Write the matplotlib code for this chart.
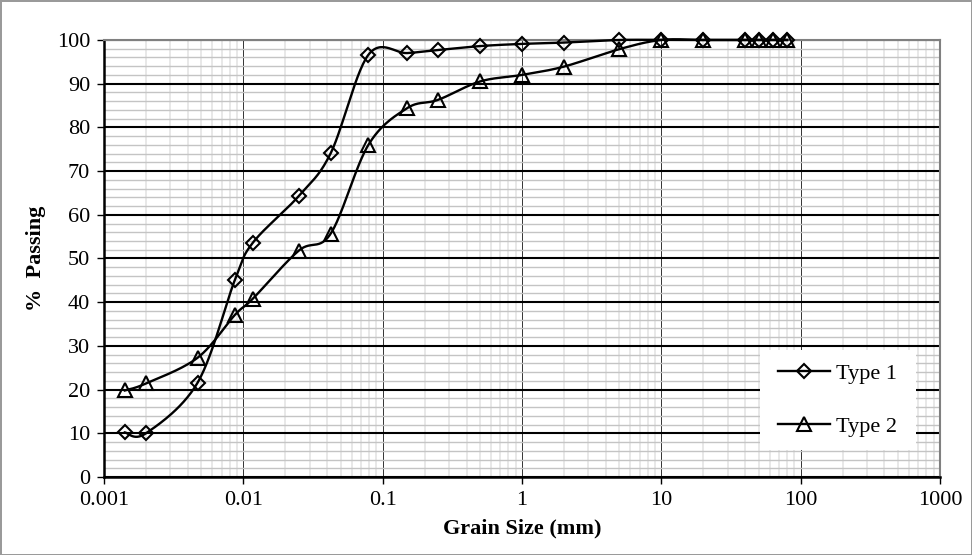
import numpy as np
import matplotlib.pyplot as plt
from matplotlib.ticker import LogLocator, MultipleLocator, FixedLocator, NullFormatter, FixedFormatter
from matplotlib.patches import Rectangle
from matplotlib.lines import Line2D

plt.rcParams['font.family'] = ['Liberation Serif', 'DejaVu Serif']

# --- datos ---
size_t1 = [0.00141, 0.002, 0.0047, 0.0087, 0.0117, 0.025, 0.0424, 0.079,
           0.15, 0.25, 0.5, 1, 2, 5, 10, 20, 40, 50, 63, 80]
pass_t1 = [10.2, 10.0, 21.6, 45.1, 53.6, 64.3, 74.1, 96.6,
           97.0, 97.7, 98.6, 99.1, 99.4, 100, 100, 100, 100, 100, 100, 100]

size_t2 = [0.00141, 0.002, 0.0047, 0.0087, 0.0117, 0.025, 0.0424, 0.079,
           0.15, 0.25, 0.5, 1, 2, 5, 10, 20, 40, 50, 63, 80]
pass_t2 = [19.8, 21.4, 27.3, 37.1, 40.8, 51.8, 55.7, 76.0,
           84.4, 86.3, 90.5, 92.0, 93.9, 97.9, 100, 100, 100, 100, 100, 100]

x_ticks = [0.001, 0.01, 0.1, 1, 10, 100, 1000]
x_tick_labels = ['0.001', '0.01', '0.1', '1', '10', '100', '1000']


def smooth(ax, xs, ys, n=30):
    # suavizado tipo Excel (Catmull-Rom) en coordenadas de pantalla
    pts = ax.transData.transform(np.column_stack([xs, ys]))
    out = [pts[0]]
    m = len(pts)
    for i in range(m - 1):
        p0 = pts[i - 1] if i > 0 else pts[i]
        p1 = pts[i]
        p2 = pts[i + 1]
        p3 = pts[i + 2] if i + 2 < m else pts[i + 1]
        c1 = p1 + (p2 - p0) / 6
        c2 = p2 - (p3 - p1) / 6
        t = np.linspace(0, 1, n)[1:, None]
        seg = ((1 - t) ** 3) * p1 + 3 * ((1 - t) ** 2) * t * c1 + 3 * (1 - t) * t ** 2 * c2 + t ** 3 * p2
        out.extend(seg)
    out = ax.transData.inverted().transform(np.array(out))
    return out[:, 0], out[:, 1]


fig = plt.figure(figsize=(9.72, 5.55), dpi=100)
fig.patch.set_facecolor('white')
fig.patch.set_edgecolor('#9a9a9a')
fig.patch.set_linewidth(1.0)

ax = fig.add_axes([0.107, 0.1405, 0.860, 0.7875])
ax.set_xscale('log')
ax.set_xlim(0.001, 1000)
ax.set_ylim(0, 100)

# ejes y rejilla
ax.xaxis.set_major_locator(FixedLocator(x_ticks))
ax.xaxis.set_major_formatter(FixedFormatter(x_tick_labels))
ax.xaxis.set_minor_locator(LogLocator(base=10, subs=np.arange(2, 10), numticks=20))
ax.xaxis.set_minor_formatter(NullFormatter())
ax.yaxis.set_major_locator(MultipleLocator(10))
ax.yaxis.set_minor_locator(MultipleLocator(2))

ax.grid(which='minor', axis='x', color='#e2e2e2', lw=1.1, zorder=0)
ax.grid(which='minor', axis='y', color='#c4c4c4', lw=1.0, zorder=0)
ax.grid(which='major', axis='x', color='#333333', lw=0.7, zorder=1)
ax.grid(which='major', axis='y', color='black', lw=1.5, zorder=1)
ax.set_axisbelow(True)

ax.tick_params(which='major', axis='both', direction='out', length=5, width=1.0,
               labelsize=16, colors='black', pad=5)
ax.tick_params(which='minor', length=0)

for s in ['left', 'bottom']:
    ax.spines[s].set_color('black')
    ax.spines[s].set_linewidth(1.8)
for s in ['top', 'right']:
    ax.spines[s].set_color('#808080')
    ax.spines[s].set_linewidth(1.5)

ax.set_xlabel('Grain Size (mm)', fontsize=16, fontweight='bold', labelpad=6)
ax.set_ylabel('%  Passing', fontsize=16, fontweight='bold', labelpad=8)

# curvas suavizadas + marcadores
sx, sy = smooth(ax, size_t1, pass_t1)
ax.plot(sx, sy, color='black', lw=1.7, zorder=3, clip_on=False)
ax.plot(size_t1, pass_t1, ls='none', marker='D', ms=7, mfc='none', mec='black',
        mew=1.5, zorder=4, clip_on=False)

sx, sy = smooth(ax, size_t2, pass_t2)
ax.plot(sx, sy, color='black', lw=1.7, zorder=3, clip_on=False)
ax.plot(size_t2, pass_t2, ls='none', marker='^', ms=10, mfc='none', mec='black',
        mew=1.5, zorder=4, clip_on=False)

# leyenda (caja blanca sin borde)
ax.add_patch(Rectangle((0.785, 0.062), 0.186, 0.228, transform=ax.transAxes,
                       facecolor='white', edgecolor='none', zorder=5))
handles = [Line2D([], [], color='black', lw=1.7, marker='D', ms=7, mfc='none', mew=1.5),
           Line2D([], [], color='black', lw=1.7, marker='^', ms=10, mfc='none', mew=1.5)]
leg = ax.legend(handles, ['Type 1', 'Type 2'], loc='center left',
                bbox_to_anchor=(0.782, 0.176), frameon=False, fontsize=16,
                handlelength=2.35, handletextpad=0.28, labelspacing=1.45)
leg.set_zorder(6)

fig.savefig('out.png', dpi=100, facecolor='white', edgecolor=fig.patch.get_edgecolor())
